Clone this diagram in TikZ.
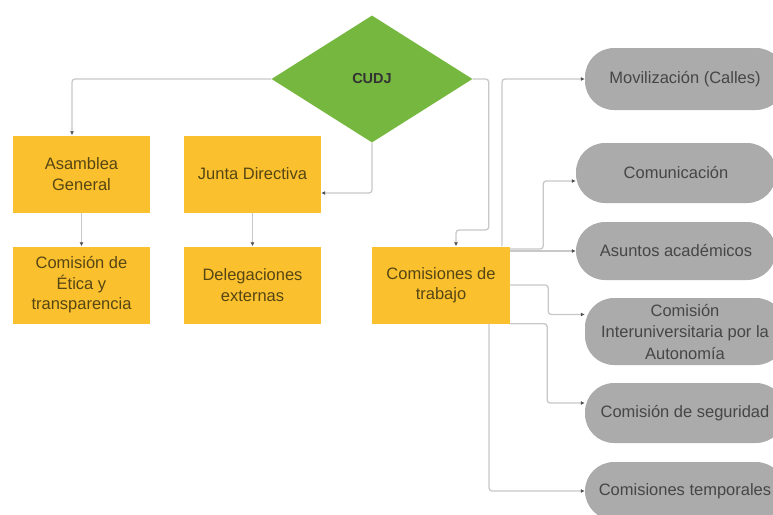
\documentclass[tikz,border=0pt]{standalone}
\usepackage{fontspec}
\setmainfont{Liberation Sans}
\usepackage{xcolor}
\usetikzlibrary{shapes.geometric,arrows,arrows.meta,calc,positioning}

\definecolor{naranja}{RGB}{251,192,45}
\definecolor{verde}{RGB}{118,183,64}
\definecolor{gris}{RGB}{171,171,171}
\definecolor{linea}{RGB}{200,200,200}
\definecolor{punta}{RGB}{80,80,80}
\definecolor{textocaja}{RGB}{85,70,20}
\definecolor{textogris}{RGB}{70,70,70}

\begin{document}
\begin{tikzpicture}[x=1pt, y=-1pt]
	\tikzstyle{every node} = [font = \fontsize{16.5}{20.5}\selectfont, align = center, inner sep = 0pt]
	\tikzstyle{rombo} = [diamond, fill = verde, minimum width = 201pt, minimum height = 127pt, text = black!80, font = \fontsize{14.5}{17}\selectfont\bfseries]
	\tikzstyle{caja} = [rectangle, fill = naranja, minimum width = 137pt, minimum height = 77pt, text = textocaja]
	\tikzstyle{ovalo} = [rectangle, rounded corners = 29pt, fill = gris, minimum width = 200pt, minimum height = 60pt, text = textogris]
	\tikzstyle{conector} = [draw = linea, line width = 1.3pt, rounded corners = 3pt, -{Latex[length = 4pt, width = 4pt, color = punta]}]

\useasboundingbox (0, 0) rectangle (773, 514);
\clip (0, 0) rectangle (773, 514);

\node[rombo] (0) at (372, 79) {CUDJ};
\node[caja] (1) at (81.5, 174) {Asamblea\\General};
\node[caja] (2) at (252.5, 174) {Junta Directiva};
\node[caja] (3) at (81.5, 285) {Comisión de\\Ética y\\transparencia};
\node[caja] (4) at (252.5, 285) {Delegaciones\\externas};
\node[caja, minimum width = 138pt] (5) at (441, 285) {Comisiones de\\trabajo};

\node[ovalo, minimum height = 62pt] (6) at (685, 79) {Movilización (Calles)};
\node[ovalo] (7) at (676, 173) {Comunicación};
\node[ovalo, minimum height = 58pt] (8) at (676, 251) {Asuntos académicos};
\node[ovalo, minimum height = 67pt, font = \fontsize{16.5}{21.5}\selectfont] (9) at (685, 331.5) {Comisión\\Interuniversitaria por la\\Autonomía};
\node[ovalo] (10) at (685, 413) {Comisión de seguridad};
\node[ovalo, minimum height = 58pt] (11) at (685, 491) {Comisiones temporales};

	\path[conector] (0.west) -| ([xshift = -9.5pt]1.north);
	\path[conector] (0.south) |- ([yshift = -19pt]2.east);
	\path[conector] (0.east) -- ++(16, 0) -- ++(0, 151) -| ([xshift = 15pt]5.north);
	\path[conector] (1.south) -- (3.north);
	\path[conector] (2.south) -- (4.north);
	\path[conector] ([xshift = 61pt]5.north) |- (6.west);
	\path[conector] ([yshift = 36pt]5.east) -- ++(33, 0) |- ([yshift = -8pt]7.west);
	\path[conector] ([yshift = 34pt]5.east) -- (8.west);
	\path[conector] (5.east) -- ++(38, 0) |- ([yshift = 17pt]9.west);
	\path[conector] (5.south east) -- ++(37, 0) |- ([yshift = 10pt]10.west);
	\path[conector] ([xshift = 48pt]5.south) |- (11.west);
\end{tikzpicture}
\end{document}
